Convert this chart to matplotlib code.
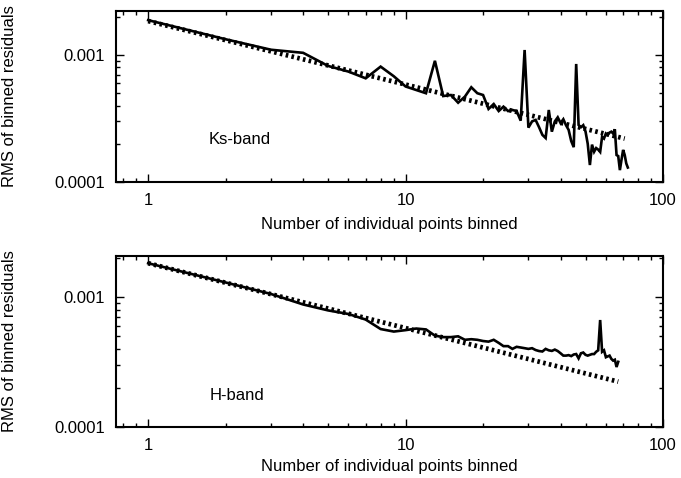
import numpy as np
import matplotlib
matplotlib.use("Agg")
import matplotlib.pyplot as plt
from matplotlib.ticker import LogLocator, FuncFormatter, NullFormatter

plt.rcParams["font.family"] = ["Liberation Sans", "DejaVu Sans"]

# RMS of binned residuals versus bin size, Ks band
ks_n = list(range(1, 74))
ks_rms = [
    1.88e-3, 1.33e-3, 1.10e-3, 1.04e-3, 0.82e-3, 0.74e-3, 0.655e-3, 0.81e-3,
    0.68e-3, 0.565e-3, 0.53e-3, 0.50e-3, 0.90e-3, 0.475e-3, 0.484e-3, 0.421e-3,
    0.47e-3, 0.557e-3, 0.50e-3, 0.484e-3, 0.376e-3, 0.411e-3, 0.362e-3, 0.392e-3,
    0.362e-3, 0.369e-3, 0.362e-3, 0.304e-3, 1.095e-3, 0.268e-3, 0.30e-3, 0.308e-3,
    0.27e-3, 0.235e-3, 0.222e-3, 0.369e-3, 0.249e-3, 0.30e-3, 0.323e-3, 0.291e-3,
    0.312e-3, 0.28e-3, 0.257e-3, 0.21e-3, 0.188e-3, 0.85e-3, 0.281e-3, 0.27e-3,
    0.28e-3, 0.25e-3, 0.20e-3, 0.136e-3, 0.197e-3, 0.173e-3, 0.185e-3, 0.18e-3,
    0.1725e-3, 0.227e-3, 0.22e-3, 0.241e-3, 0.235e-3, 0.245e-3, 0.249e-3, 0.241e-3,
    0.26e-3, 0.163e-3, 0.16e-3, 0.124e-3, 0.15e-3, 0.179e-3, 0.163e-3, 0.14e-3,
    0.13e-3,
]
# White-noise expectation (slope -1/2 in log-log)
ks_fit_n = [1, 71]
ks_fit_rms = [1.85e-3, 0.2196e-3]

# Same for the H band
h_n = list(range(1, 68))
h_rms = [
    1.83e-3, 1.30e-3, 1.06e-3, 0.88e-3, 0.792e-3, 0.743e-3, 0.673e-3, 0.569e-3,
    0.544e-3, 0.558e-3, 0.574e-3, 0.565e-3, 0.506e-3, 0.493e-3, 0.493e-3, 0.50e-3,
    0.47e-3, 0.475e-3, 0.47e-3, 0.46e-3, 0.455e-3, 0.47e-3, 0.445e-3, 0.42e-3,
    0.42e-3, 0.40e-3, 0.415e-3, 0.41e-3, 0.405e-3, 0.40e-3, 0.405e-3, 0.392e-3,
    0.385e-3, 0.382e-3, 0.40e-3, 0.39e-3, 0.386e-3, 0.395e-3, 0.385e-3, 0.37e-3,
    0.355e-3, 0.355e-3, 0.358e-3, 0.352e-3, 0.362e-3, 0.365e-3, 0.338e-3, 0.37e-3,
    0.375e-3, 0.36e-3, 0.355e-3, 0.36e-3, 0.365e-3, 0.365e-3, 0.38e-3, 0.39e-3,
    0.668e-3, 0.38e-3, 0.39e-3, 0.345e-3, 0.35e-3, 0.355e-3, 0.335e-3, 0.325e-3,
    0.33e-3, 0.29e-3, 0.318e-3,
]
h_fit_n = [1, 67]
h_fit_rms = [1.83e-3, 0.2236e-3]

x_ticks = [1, 10, 100]
y_ticks = [0.0001, 0.001]

W, H = 681, 478
fig = plt.figure(figsize=(W / 100, H / 100), dpi=100)

panels = [
    dict(rect=(116, 11, 663, 182), n=ks_n, rms=ks_rms, fn=ks_fit_n, fr=ks_fit_rms,
         ylim=(1e-4, 2.22e-3), label="Ks-band", label_xy=(240, 140), xlab_y=224),
    dict(rect=(116, 256, 663, 427), n=h_n, rms=h_rms, fn=h_fit_n, fr=h_fit_rms,
         ylim=(1e-4, 2.08e-3), label="H-band", label_xy=(237, 395), xlab_y=467),
]

fs = 12
for p in panels:
    x0, y0, x1, y1 = p["rect"]
    ax = fig.add_axes([x0 / W, 1 - y1 / H, (x1 - x0) / W, (y1 - y0) / H])
    ax.set_xscale("log")
    ax.set_yscale("log")
    ax.plot(p["fn"], p["fr"], color="black", lw=3.4, linestyle=(0, (0.55, 0.7)),
            solid_capstyle="butt", dash_capstyle="butt")
    ax.plot(p["n"], p["rms"], color="black", lw=1.9, solid_joinstyle="miter")
    ax.set_xlim(0.75, 100)
    ax.set_ylim(*p["ylim"])

    ax.xaxis.set_minor_locator(LogLocator(base=10, subs=np.arange(2, 10), numticks=10))
    ax.yaxis.set_minor_locator(LogLocator(base=10, subs=np.arange(2, 10), numticks=10))
    ax.set_xticks(x_ticks)
    ax.set_yticks(y_ticks)
    fmt = FuncFormatter(lambda v, pos: f"{v:g}")
    ax.xaxis.set_major_formatter(fmt)
    ax.yaxis.set_major_formatter(fmt)
    ax.xaxis.set_minor_formatter(NullFormatter())
    ax.yaxis.set_minor_formatter(NullFormatter())
    ax.tick_params(which="both", direction="in", top=True, right=True,
                   width=1.0, labelsize=fs, pad=8)
    ax.tick_params(which="major", length=6)
    ax.tick_params(which="minor", length=3)
    for s in ax.spines.values():
        s.set_linewidth(1.5)

    lx, ly = p["label_xy"]
    fig.text(lx / W, 1 - ly / H, p["label"], ha="center", va="center", fontsize=fs)
    fig.text(10 / W, 1 - (y0 + y1) / 2 / H, "RMS of binned residuals",
             rotation=90, ha="center", va="center", fontsize=fs)
    fig.text((x0 + x1) / 2 / W, 1 - p["xlab_y"] / H,
             "Number of individual points binned", ha="center", va="center",
             fontsize=fs)

fig.savefig("out.png", dpi=100)
